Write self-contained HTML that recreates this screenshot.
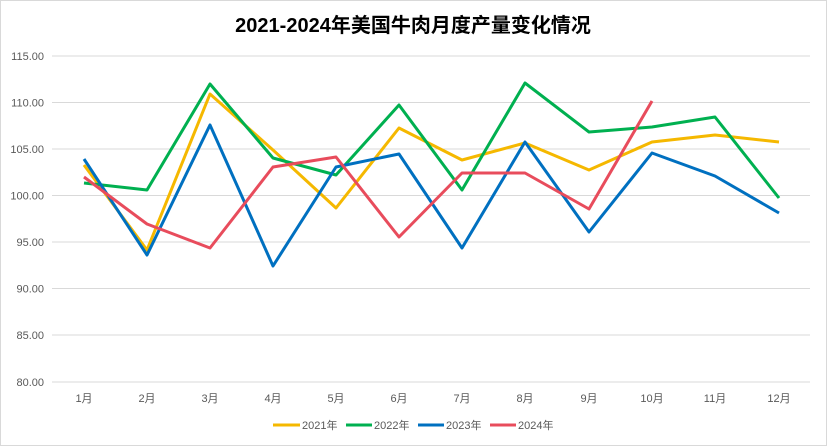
<!DOCTYPE html>
<html><head><meta charset="utf-8"><style>
body{margin:0;background:#fff;}
svg{display:block;font-family:"Liberation Sans","Noto Sans CJK SC",sans-serif;}
</style></head><body>
<svg width="827" height="446" viewBox="0 0 827 446">
<rect x="0.5" y="0.5" width="826" height="445" fill="#fff" stroke="#d9d9d9"/>
<text x="413" y="32" text-anchor="middle" font-size="20" font-weight="bold" fill="#000">2021-2024年美国牛肉月度产量变化情况</text>
<g stroke="#d9d9d9" stroke-width="1">
<line x1="52" x2="810" y1="56" y2="56"/><line x1="52" x2="810" y1="102.5" y2="102.5"/>
<line x1="52" x2="810" y1="149" y2="149"/><line x1="52" x2="810" y1="195.5" y2="195.5"/>
<line x1="52" x2="810" y1="242" y2="242"/><line x1="52" x2="810" y1="288.5" y2="288.5"/>
<line x1="52" x2="810" y1="335" y2="335"/><line x1="52" x2="810" y1="382" y2="382"/>
</g>
<g font-size="11" fill="#595959" text-anchor="end">
<text x="44" y="60">115.00</text><text x="44" y="106.5">110.00</text><text x="44" y="153">105.00</text>
<text x="44" y="199.5">100.00</text><text x="44" y="246">95.00</text><text x="44" y="292.5">90.00</text>
<text x="44" y="339">85.00</text><text x="44" y="386">80.00</text>
</g>
<g font-size="11" fill="#595959" text-anchor="middle">
<text x="84" y="402">1月</text><text x="147" y="402">2月</text><text x="210" y="402">3月</text><text x="273" y="402">4月</text>
<text x="336" y="402">5月</text><text x="399" y="402">6月</text><text x="462" y="402">7月</text><text x="525" y="402">8月</text>
<text x="589" y="402">9月</text><text x="652" y="402">10月</text><text x="715" y="402">11月</text><text x="779" y="402">12月</text>
</g>
<g fill="none" stroke-width="3" stroke-linejoin="round">
<polyline stroke="#f5b800" points="84,165 147,250 210,94 273,150 336,208 399,128 462,160 525,143 589,170 652,142 715,135 779,142"/>
<polyline stroke="#00b050" points="84,183 147,190 210,84 273,158 336,175 399,105 462,190 525,83 589,132 652,127 715,117 779,198"/>
<polyline stroke="#0070c0" points="84,159 147,255 210,125 273,266 336,167 399,154 462,248 525,142 589,232 652,153 715,176 779,213"/>
<polyline stroke="#e84c5c" points="84,177 147,224 210,248 273,167 336,157 399,237 462,173 525,173 589,209 652,101"/>
</g>
<g font-size="11" fill="#595959">
<line x1="273" x2="300" y1="425" y2="425" stroke="#f5b800" stroke-width="3"/><text x="302" y="429">2021年</text>
<line x1="346" x2="372" y1="425" y2="425" stroke="#00b050" stroke-width="3"/><text x="374" y="429">2022年</text>
<line x1="418" x2="444" y1="425" y2="425" stroke="#0070c0" stroke-width="3"/><text x="446" y="429">2023年</text>
<line x1="490" x2="516" y1="425" y2="425" stroke="#e84c5c" stroke-width="3"/><text x="518" y="429">2024年</text>
</g>
</svg>
</body></html>
